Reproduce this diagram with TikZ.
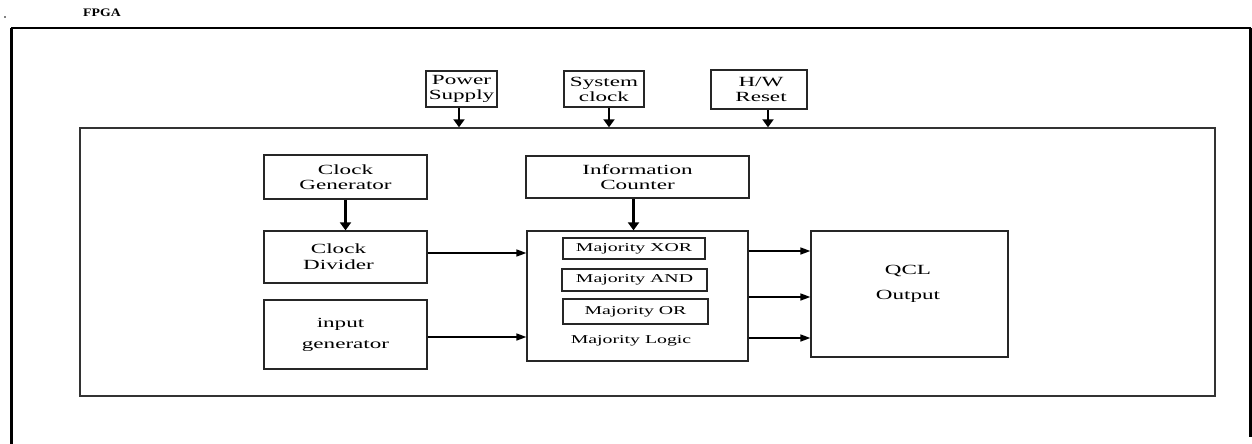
\documentclass[tikz,border=0pt]{standalone}
\usepackage{fontspec}
\setmainfont{Liberation Serif}[FakeStretch=1.65]
\newfontfamily\titlefont{Liberation Serif}[FakeStretch=1.2]
\usetikzlibrary{arrows.meta}
\tikzset{
  box/.style={draw=black!85, line width=1.3pt, inner sep=0pt, align=center, font=\fontsize{14}{16}\selectfont},
  smallbox/.style={box, font=\fontsize{12}{14}\selectfont},
  frame/.style={draw=black!80, line width=1.4pt},
  bigarrow/.style={line width=2.8pt, -{Triangle[length=8pt,width=11pt]}},
  harrow/.style={line width=1.6pt, -{Triangle[length=10pt,width=7pt]}},
}
\begin{document}
\begin{tikzpicture}[x=1pt,y=-1pt]
\useasboundingbox (0,0) rectangle (1252,444);
% outer FPGA frame
\node[font=\titlefont\bfseries\fontsize{11.5}{13}\selectfont, inner sep=0pt] (fpga) at (102,13) {FPGA};
\fill (5,17) circle (0.8);
\coordinate (tl) at (11,28);
\coordinate (tr) at (1250.5,28);
\coordinate (bl) at (11,444);
\coordinate (br) at (1250.5,437);
\draw[line width=3pt] (bl) -- (tl);
\draw[line width=2pt] (tl) -- (tr);
\draw[line width=2.5pt] (tr) -- (br);
% inner frame
\node[frame, minimum width=1135pt, minimum height=268pt, inner sep=0pt] (inner) at (647.5,262) {};
% top inputs
\node[box, minimum width=71pt, minimum height=36pt] (power) at (461.5,89) {Power\\[-1pt]Supply};
\node[box, minimum width=80pt, minimum height=36pt] (sysclk) at (604,89) {System\\[-1pt]clock};
\node[box, minimum width=96pt, minimum height=39pt] (hwreset) at (759,89.5) {\hspace*{4pt}H/W\\[-1pt]\hspace*{4pt}Reset};
\draw[bigarrow] ([xshift=-2.5pt]power.south) -- ([xshift=-2.5pt]power.south |- inner.north);
\draw[bigarrow] ([xshift=5pt]sysclk.south) -- ([xshift=5pt]sysclk.south |- inner.north);
\draw[bigarrow] ([xshift=9pt]hwreset.south) -- ([xshift=9pt]hwreset.south |- inner.north);
% left column
\node[box, minimum width=163pt, minimum height=44pt] (clkgen) at (345.5,177) {Clock\\[-1pt]Generator};
\node[box, minimum width=163pt, minimum height=52pt] (clkdiv) at (345.5,257) {\hspace*{-14pt}Clock\\[0pt]\hspace*{-14pt}Divider};
\node[box, minimum width=163pt, minimum height=69pt] (inputgen) at (345.5,334.5) {\hspace*{-10pt}input\\[5pt]generator};
% middle column
\node[box, minimum width=223pt, minimum height=42pt] (infocnt) at (637.5,177) {Information\\[-1pt]Counter};
\node[box, minimum width=221pt, minimum height=130pt] (ml) at (637.5,296) {};
\node[smallbox, minimum width=142pt, minimum height=21pt] (xor) at (634,248.5) {Majority XOR};
\node[smallbox, minimum width=145pt, minimum height=22pt] (and) at (634.5,280) {Majority AND};
\node[smallbox, minimum width=145pt, minimum height=25pt] (or) at (635.5,311.5) {Majority OR};
\node[font=\fontsize{12}{14}\selectfont, inner sep=0pt] (mllabel) at (631,341) {Majority Logic};
% right
\node[box, minimum width=197pt, minimum height=126pt] (qcl) at (909.5,294) {};
\node[font=\fontsize{14}{16}\selectfont, inner sep=0pt] (qcltxt) at (908,271) {QCL};
\node[font=\fontsize{14}{16}\selectfont, inner sep=0pt] (outtxt) at (908,296) {Output};
% arrows
\draw[bigarrow] (clkgen.south) -- (clkdiv.north);
\draw[bigarrow] ([xshift=-4pt]infocnt.south) -- ([xshift=-4pt]infocnt.south |- ml.north);
\draw[harrow] ([yshift=4pt]clkdiv.east) -- ([yshift=4pt]clkdiv.east -| ml.west);
\draw[harrow] ([yshift=-2.5pt]inputgen.east) -- ([yshift=-2.5pt]inputgen.east -| ml.west);
\draw[harrow] ([yshift=45pt]ml.east) -- ([yshift=45pt]ml.east -| qcl.west);
\draw[harrow] ([yshift=-1pt]ml.east) -- ([yshift=-1pt]ml.east -| qcl.west);
\draw[harrow] ([yshift=-42pt]ml.east) -- ([yshift=-42pt]ml.east -| qcl.west);
\end{tikzpicture}
\end{document}
